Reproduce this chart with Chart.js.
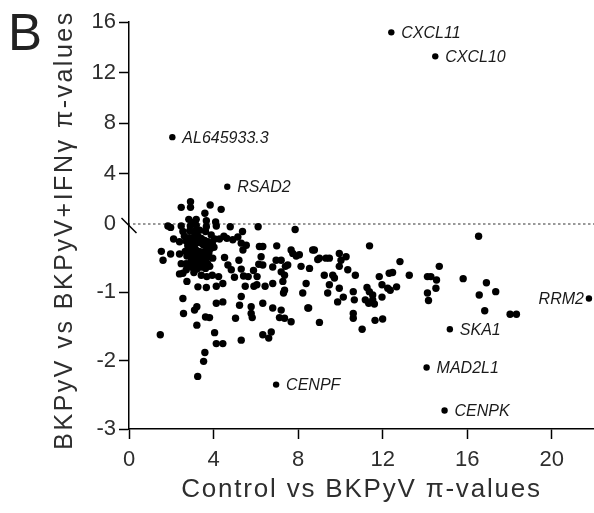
<!DOCTYPE html>
<html>
<head>
<meta charset="utf-8">
<script src="https://cdn.jsdelivr.net/npm/chart.js@4/dist/chart.umd.min.js"></script>
<style>
html, body { margin: 0; padding: 0; background: #fff; }
</style>
</head>
<body>
<canvas id="piPlot" width="594" height="513"></canvas>
<script>
// Tick values for the broken y axis and the x axis
var xTicks = [0, 4, 8, 12, 16, 20];
var yTicksUpper = [0, 4, 8, 12, 16];
var yTicksLower = [-3, -2, -1, 0];

// Labelled genes
var geneNames = ['CXCL11', 'CXCL10', 'AL645933.3', 'RSAD2', 'CENPF', 'SKA1', 'MAD2L1', 'CENPK', 'RRM2'];
var geneX = [12.41, 14.49, 2.05, 4.65, 6.96, 15.18, 14.08, 14.93, 21.76];
var geneY = [15.18, 13.28, 6.88, 2.95, -2.35, -1.54, -2.10, -2.73, -1.09];

// All other genes: control vs BKPyV (x) and BKPyV vs BKPyV+IFNg (y) pi-values
var ctrlPi = [
  2.47, 2.91, 2.91, 3.84, 4.36, 3.59, 2.83, 3.18, 3.66, 4.10, 3.00, 3.12,
  1.84, 1.97, 2.47, 2.90, 3.18, 3.18, 3.66, 4.13, 4.79, 6.11, 7.86, 5.37, 11.38, 16.54,
  2.55, 2.87, 3.10, 3.34, 3.62, 3.89, 4.05, 4.28, 4.49, 4.63, 4.91, 5.15, 5.31, 5.55,
  6.17, 6.33, 6.99, 7.67, 8.06, 8.69, 8.93, 9.32,
  1.53, 1.61, 1.97, 2.11, 2.39, 1.48,
  2.62, 2.70, 2.78, 2.86, 2.94, 3.02, 3.10, 3.18, 3.26, 3.34, 3.42, 3.50, 3.58, 3.66, 3.74,
  2.66, 2.74, 2.82, 2.90, 2.98, 3.06, 3.14, 3.22, 3.30, 3.38, 3.46, 3.54, 3.62, 3.70, 3.78, 3.86,
  2.70, 2.80, 2.92, 3.02, 3.12, 3.22, 3.32, 3.42, 3.52, 3.62, 3.72, 3.82, 3.96, 4.02, 3.94,
  2.98, 3.28, 3.58, 3.16,
  2.39, 2.47, 2.39, 2.55, 2.74, 2.71, 3.07, 3.26, 3.66, 3.42, 3.68, 3.94, 4.13, 4.24, 4.44,
  4.52, 4.68, 4.84, 4.99, 5.20, 5.39, 5.31, 5.42, 5.64, 5.50, 5.91, 6.05, 6.44, 6.25, 6.14,
  6.33, 5.89, 6.06, 6.80, 6.96, 7.20, 7.40, 7.51, 7.20, 7.36, 6.80, 7.28, 7.36, 7.31, 7.75,
  7.91, 8.14, 8.54, 8.38, 8.22, 8.46, 8.77, 9.01, 9.24, 9.48, 9.64, 9.72, 9.48, 9.40, 9.87,
  9.95, 10.03, 10.27, 5.31, 5.23, 5.78, 5.78, 5.04, 6.33, 6.80, 7.20, 7.67, 7.36, 8.50, 9.01,
  4.13, 4.44, 3.21, 2.55, 2.58, 3.10, 3.21, 3.62, 3.81, 4.05, 4.44, 4.13, 5.31, 6.33, 6.73,
  6.61, 3.59, 3.53, 3.25, 5.83, 7.12,
  9.95, 10.35, 10.71, 9.95, 10.14, 10.61, 10.66, 10.61, 10.61, 11.03, 11.26, 11.37, 11.53,
  11.53, 11.18, 11.34, 11.61, 11.64, 12.00, 11.84, 11.97, 11.97, 12.24, 12.36, 12.31, 12.47,
  12.66, 12.82, 13.26, 14.12, 14.28, 14.68, 14.55, 14.52, 14.12, 14.17, 15.81, 16.57, 16.91,
  17.35, 16.83, 18.03, 18.33
];
var ifnPi = [
  1.32, 1.76, 1.32, 1.50, 1.16, 0.85, 0.37, 0.37, 0.26, 0.16, 0.12, 0.05,
  -0.03, -0.05, -0.03, -0.03, -0.02, -0.09, -0.04, -0.03, -0.04, -0.04, -0.08, -0.11, -0.32, -0.18,
  -0.11, -0.10, -0.13, -0.09, -0.11, -0.16, -0.22, -0.22, -0.18, -0.21, -0.23, -0.19, -0.28, -0.31,
  -0.33, -0.33, -0.32, -0.38, -0.45, -0.38, -0.52, -0.50,
  -0.40, -0.53, -0.44, -0.22, -0.26, -1.62,
  -0.18, -0.25, -0.32, -0.20, -0.28, -0.22, -0.30, -0.24, -0.18, -0.27, -0.21, -0.30, -0.24, -0.33, -0.26,
  -0.40, -0.47, -0.38, -0.45, -0.36, -0.43, -0.37, -0.46, -0.40, -0.48, -0.41, -0.47, -0.40, -0.49, -0.42, -0.36,
  -0.58, -0.62, -0.56, -0.64, -0.58, -0.66, -0.58, -0.63, -0.57, -0.65, -0.58, -0.62, -0.50, -0.34, -0.28,
  -0.52, -0.52, -0.54, -0.50,
  -0.44, -0.58, -0.73, -0.72, -0.84, -0.67, -0.71, -0.92, -0.93, -0.75, -0.77, -0.75, -0.91, -0.77, -0.87,
  -0.49, -0.60, -0.67, -0.78, -0.53, -0.38, -0.66, -0.76, -0.77, -0.91, -0.91, -0.89, -0.91, -0.48, -0.59,
  -0.60, -0.68, -0.77, -0.63, -0.53, -0.53, -0.62, -0.60, -0.70, -0.75, -0.87, -0.84, -0.97, -1.01, -0.43,
  -0.47, -0.62, -0.65, -0.87, -1.01, -1.23, -0.38, -0.50, -0.75, -0.50, -0.75, -0.79, -0.89, -1.01, -1.14,
  -0.43, -0.53, -0.48, -1.06, -1.19, -1.21, -1.31, -1.38, -1.16, -1.23, -1.26, -1.43, -1.38, -1.23, -1.44,
  -1.16, -1.14, -1.21, -1.09, -1.31, -1.26, -1.48, -1.36, -1.37, -1.59, -1.75, -1.75, -1.70, -1.62, -1.58,
  -1.67, -1.88, -2.01, -2.23, -1.37, -1.37,
  -0.62, -0.67, -0.75, -0.94, -1.07, -0.99, -1.11, -1.31, -1.38, -1.54, -0.93, -0.99, -1.04,
  -1.11, -1.11, -1.16, -1.17, -1.41, -1.39, -0.77, -0.89, -1.07, -0.94, -0.97, -0.72, -0.71,
  -0.92, -0.55, -0.75, -0.77, -0.77, -0.62, -0.82, -0.94, -1.01, -1.12, -0.80, -1.04, -0.86,
  -0.99, -1.27, -1.32, -1.32
];

var FONT = '"Liberation Sans", Arial, Helvetica, sans-serif';
var TEXT = '#2e2e2e';

// split points between the two halves of the broken axis
var upperPts = [], lowerPts = [], geneUpper = [], geneLower = [];
ctrlPi.forEach(function (x, i) {
    (ifnPi[i] > 0 ? upperPts : lowerPts).push({x: x, y: ifnPi[i]});
});
geneNames.forEach(function (name, i) {
    (geneY[i] > 0 ? geneUpper : geneLower).push({x: geneX[i], y: geneY[i], name: name});
});

function dots(data, axis, r) {
    return {
        data: data, yAxisID: axis,
        backgroundColor: '#000', borderWidth: 0,
        pointRadius: r, pointHoverRadius: r, clip: false
    };
}

function hideZeroTick(c) {
    return c.tick && c.tick.value === 0 ? 'rgba(0,0,0,0)' : '#000';
}

var piDecor = {
    id: 'piDecor',
    beforeDatasetsDraw: function (chart) {
        // dotted zero line
        var ctx = chart.ctx, area = chart.chartArea;
        var y0 = chart.scales.yTop.getPixelForValue(0);
        ctx.save();
        ctx.strokeStyle = '#333';
        ctx.lineWidth = 1;
        ctx.setLineDash([2.5, 2.5]);
        ctx.beginPath();
        ctx.moveTo(area.left + 4, y0);
        ctx.lineTo(area.right, y0);
        ctx.stroke();
        ctx.restore();
    },
    afterDraw: function (chart) {
        var ctx = chart.ctx, area = chart.chartArea;
        var y0 = chart.scales.yTop.getPixelForValue(0);
        ctx.save();

        // axis break mark
        ctx.strokeStyle = '#000';
        ctx.lineWidth = 1.5;
        ctx.beginPath();
        ctx.moveTo(area.left - 7.5, y0 - 6);
        ctx.lineTo(area.left + 7.5, y0 + 9);
        ctx.stroke();

        // gene labels
        ctx.fillStyle = '#1a1a1a';
        ctx.font = 'italic 16px ' + FONT;
        ctx.textBaseline = 'middle';
        [2, 3].forEach(function (di) {
            var meta = chart.getDatasetMeta(di);
            var ds = chart.data.datasets[di];
            meta.data.forEach(function (pt, i) {
                var name = ds.data[i].name;
                if (name === 'RRM2') {
                    ctx.textAlign = 'right';
                    ctx.fillText(name, pt.x - 5, pt.y + 1);
                } else {
                    ctx.textAlign = 'left';
                    ctx.fillText(name, pt.x + 10, pt.y + 1);
                }
            });
        });

        // axis titles
        ctx.fillStyle = TEXT;
        ctx.textBaseline = 'alphabetic';
        ctx.textAlign = 'center';
        ctx.font = '26px ' + FONT;
        ctx.letterSpacing = '1.8px';
        ctx.fillText('Control vs BKPyV \u03c0-values', (area.left + area.right) / 2, 497);

        ctx.save();
        ctx.translate(72, 230);
        ctx.rotate(-Math.PI / 2);
        ctx.font = '25px ' + FONT;
        ctx.letterSpacing = '2.5px';
        ctx.fillText('BKPyV vs BKPyV+IFN\u03b3 \u03c0-values', 0, 0);
        ctx.restore();

        // panel letter
        ctx.letterSpacing = '0px';
        ctx.textAlign = 'left';
        ctx.fillStyle = '#222';
        ctx.font = '51px ' + FONT;
        ctx.fillText('B', 8, 50);
        ctx.restore();
    }
};

var config = {
    type: 'scatter',
    data: {
        datasets: [
            dots(upperPts, 'yTop', 3.7),
            dots(lowerPts, 'yBot', 3.7),
            dots(geneUpper, 'yTop', 3.2),
            dots(geneLower, 'yBot', 3.2)
        ]
    },
    options: {
        responsive: false,
        animation: false,
        events: [],
        layout: { autoPadding: false, padding: { top: 22, left: 0, right: 0, bottom: 0 } },
        plugins: {
            legend: { display: false },
            tooltip: { enabled: false }
        },
        scales: {
            x: {
                type: 'linear', min: 0, max: 22,
                border: { color: '#000', width: 1.5 },
                grid: { drawOnChartArea: false, tickLength: 10, tickWidth: 1.5, tickColor: '#000' },
                ticks: { font: { family: FONT, size: 22 }, color: TEXT, padding: 8 },
                afterBuildTicks: function (s) { s.ticks = xTicks.map(function (v) { return {value: v}; }); },
                afterFit: function (s) { s.height = 84; }
            },
            yBot: {
                type: 'linear', position: 'left', min: -3, max: 0,
                stack: 'pi', stackWeight: 205,
                border: { color: '#000', width: 1.5 },
                grid: { drawOnChartArea: false, tickLength: 10, tickWidth: 1.5, tickColor: hideZeroTick },
                ticks: {
                    font: { family: FONT, size: 22 }, color: TEXT, padding: 3,
                    callback: function (v) { return v === 0 ? '' : v; }
                },
                afterBuildTicks: function (s) { s.ticks = yTicksLower.map(function (v) { return {value: v}; }); },
                afterFit: function (s) { s.width = 129; }
            },
            yTop: {
                type: 'linear', position: 'left', min: 0, max: 16,
                stack: 'pi', stackWeight: 202,
                border: { color: '#000', width: 1.5 },
                grid: { drawOnChartArea: false, tickLength: 10, tickWidth: 1.5, tickColor: hideZeroTick },
                ticks: { font: { family: FONT, size: 22 }, color: TEXT, padding: 3 },
                afterBuildTicks: function (s) { s.ticks = yTicksUpper.map(function (v) { return {value: v}; }); },
                afterFit: function (s) { s.width = 129; }
            }
        }
    },
    plugins: [piDecor]
};

var ctx = document.getElementById('piPlot').getContext('2d');
window.piChart = new Chart(ctx, config);
</script>
</body>
</html>
